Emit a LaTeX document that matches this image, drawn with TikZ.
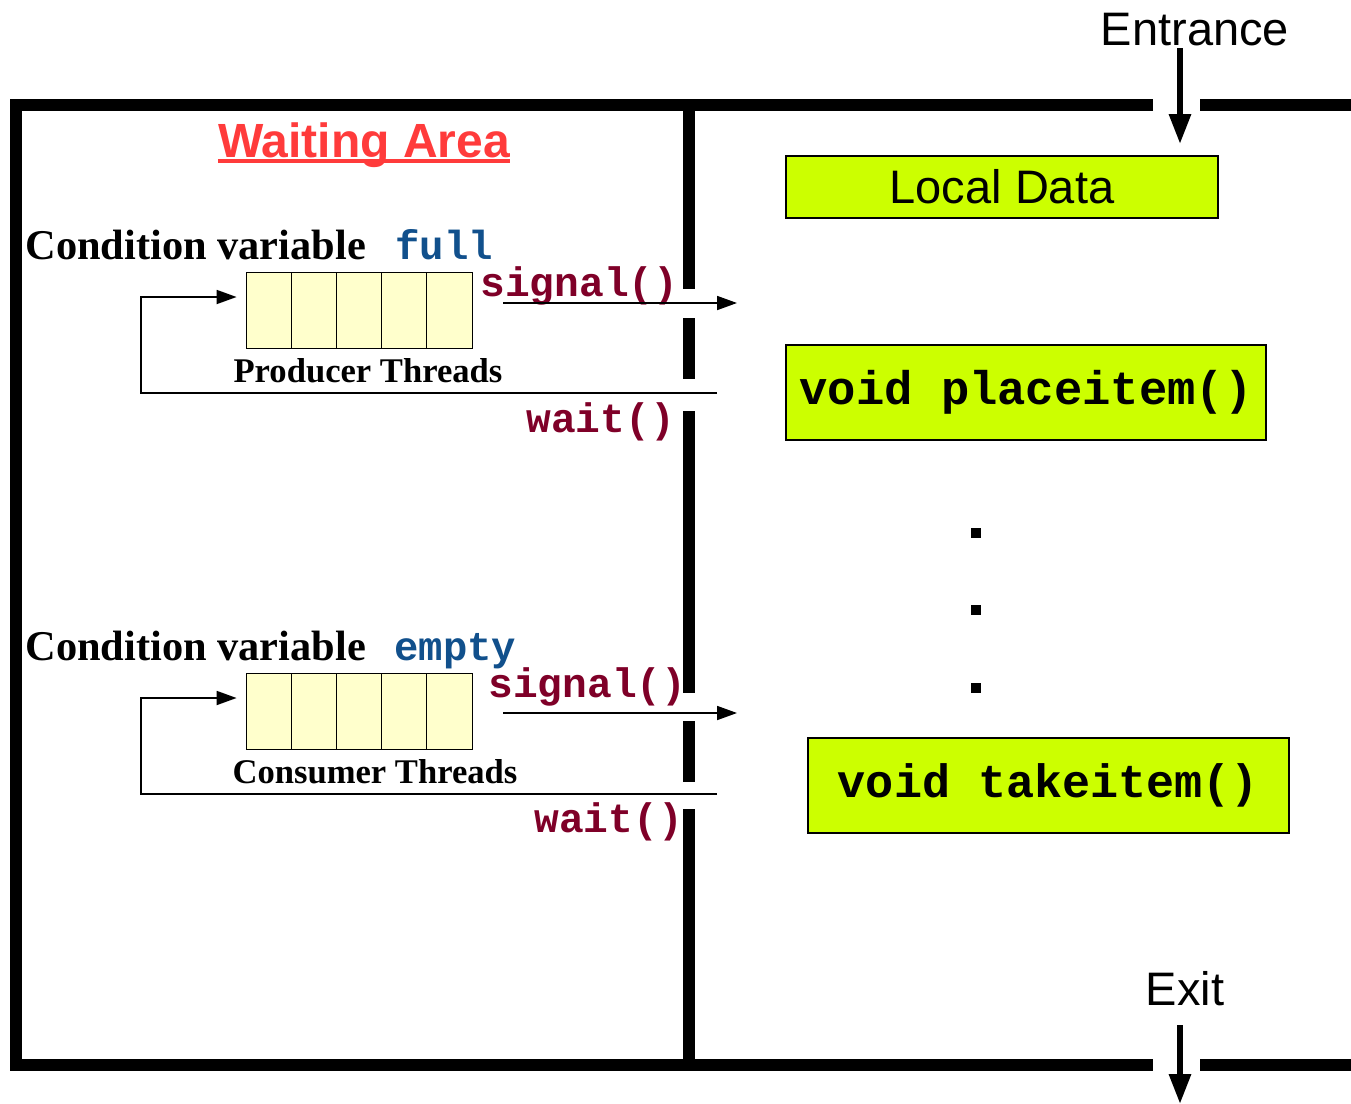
\documentclass[tikz,border=0pt]{standalone}
\usepackage{fontspec}
\setmainfont{Liberation Serif}
\setsansfont{Liberation Sans}
\setmonofont{Liberation Mono}
\usetikzlibrary{arrows.meta,positioning}
\definecolor{waitred}{HTML}{FF3B3B}
\definecolor{cvblue}{HTML}{11508C}
\definecolor{opred}{HTML}{7F0028}
\definecolor{qyellow}{HTML}{FFFFCC}
\definecolor{fnlime}{HTML}{CCFF00}
\tikzset{
wall/.style={line width=5.8pt},
queue/.style={draw, line width=0.6pt, fill=qyellow, anchor=north west,
    minimum width=113pt, minimum height=38pt, inner sep=0pt},
fnbox/.style={draw, line width=1pt, fill=fnlime, inner sep=0pt},
cvtext/.style={font=\fontsize{21.2}{24}\selectfont\bfseries, inner sep=0pt, anchor=base west},
vartext/.style={font=\fontsize{20.3}{24}\selectfont\ttfamily\bfseries, text=cvblue,
    inner sep=0pt, anchor=base west},
optext/.style={font=\fontsize{20.6}{24}\selectfont\ttfamily\bfseries, text=opred,
    inner sep=0pt, anchor=base west},
thrtext/.style={font=\fontsize{17.3}{20}\selectfont\bfseries, inner sep=0pt, anchor=base},
doortext/.style={font=\sffamily\fontsize{23.5}{26}\selectfont, inner sep=0pt, anchor=base},
flow/.style={line width=0.9pt, -{Triangle[length=10pt,width=7pt]}},
bigflow/.style={line width=3pt, -{Triangle[length=15pt,width=10.5pt]}},
dot/.style={fill, rectangle, minimum size=5pt, inner sep=0pt}
}
\newcommand{\cellsof}[1]{%
  \foreach \i in {1,...,4}
    \draw[line width=0.6pt] ([xshift=\i*22.6pt]#1.north west) -- ([xshift=\i*22.6pt]#1.south west);}

\begin{document}
\begin{tikzpicture}[x=0.5pt, y=-0.5pt]
\useasboundingbox (0,0) rectangle (1351,1104);

% walls of the monitor
\draw[wall] (1153,105) -- (16,105) -- (16,1065) -- (1153,1065);
\draw[wall] (1200,105) -- (1351,105);
\draw[wall] (1200,1065) -- (1351,1065);
\draw[wall] (689,105) -- (689,289) (689,318) -- (689,379) (689,411) -- (689,693)
  (689,721) -- (689,782) (689,809) -- (689,1065);

\node[font=\sffamily\bfseries\fontsize{24}{28}\selectfont, text=waitred, inner sep=0pt,
  anchor=base] (wa) at (364,157) {Waiting Area};
\draw[waitred, line width=2pt] ([yshift=-1.8pt]wa.base west) -- ([yshift=-1.8pt]wa.base east);

% producers
\node[cvtext] (cv1) at (25,259) {Condition variable};
\node[vartext] (full) at (395,259) {full};
\node[queue] (pq) at (246,272) {};
\cellsof{pq}
\node[thrtext] (pt) at (368,382) {Producer Threads};
\node[optext] (sig1) at (480,296) {signal()};
\node[optext] (wait1) at (526,432) {wait()};
\coordinate (s1a) at (503,303);
\coordinate (s1b) at (737,303);
\draw[flow] (s1a) -- (s1b);
\coordinate (w1a) at (717,393);
\coordinate (w1b) at (141,297);
\draw[flow, shorten >=4.7pt] (w1a) -| (w1b) -- (w1b -| pq.west);

% consumers
\node[cvtext] (cv2) at (25,660) {Condition variable};
\node[vartext] (empty) at (394,660) {empty};
\node[queue] (cq) at (246,673) {};
\cellsof{cq}
\node[thrtext] (ct) at (375,783) {Consumer Threads};
\node[optext] (sig2) at (488,697) {signal()};
\node[optext] (wait2) at (534,832) {wait()};
\coordinate (s2a) at (503,713);
\coordinate (s2b) at (737,713);
\draw[flow] (s2a) -- (s2b);
\coordinate (w2a) at (717,794);
\coordinate (w2b) at (141,698);
\draw[flow, shorten >=4.7pt] (w2a) -| (w2b) -- (w2b -| cq.west);

% monitor body
\node[fnbox, font=\sffamily\fontsize{23.5}{26}\selectfont, minimum width=216pt,
  minimum height=31pt] (ld) at (1002,187) {Local Data};
\node[fnbox, font=\ttfamily\bfseries\fontsize{23.6}{26}\selectfont, minimum width=240pt,
  minimum height=47.5pt] (place) at (1026,392.5) {void placeitem()};
\foreach \y in {533,610,688}
  \node[dot] (d\y) at (976,\y) {};
\node[fnbox, font=\ttfamily\bfseries\fontsize{23.4}{26}\selectfont, minimum width=240.5pt,
  minimum height=47.5pt] (take) at (1048.5,785.5) {void takeitem()};

% doors
\node[doortext] (entr) at (1195,45) {Entrance};
\coordinate (in) at (1180,48);
\draw[bigflow, shorten >=5.5pt] (in) -- (in |- ld.north);
\node[doortext] (exit) at (1185,1005) {Exit};
\coordinate (out) at (1180,1025);
\coordinate (outend) at (1180,1104);
\draw[bigflow] (out) -- (outend);
\end{tikzpicture}
\end{document}
